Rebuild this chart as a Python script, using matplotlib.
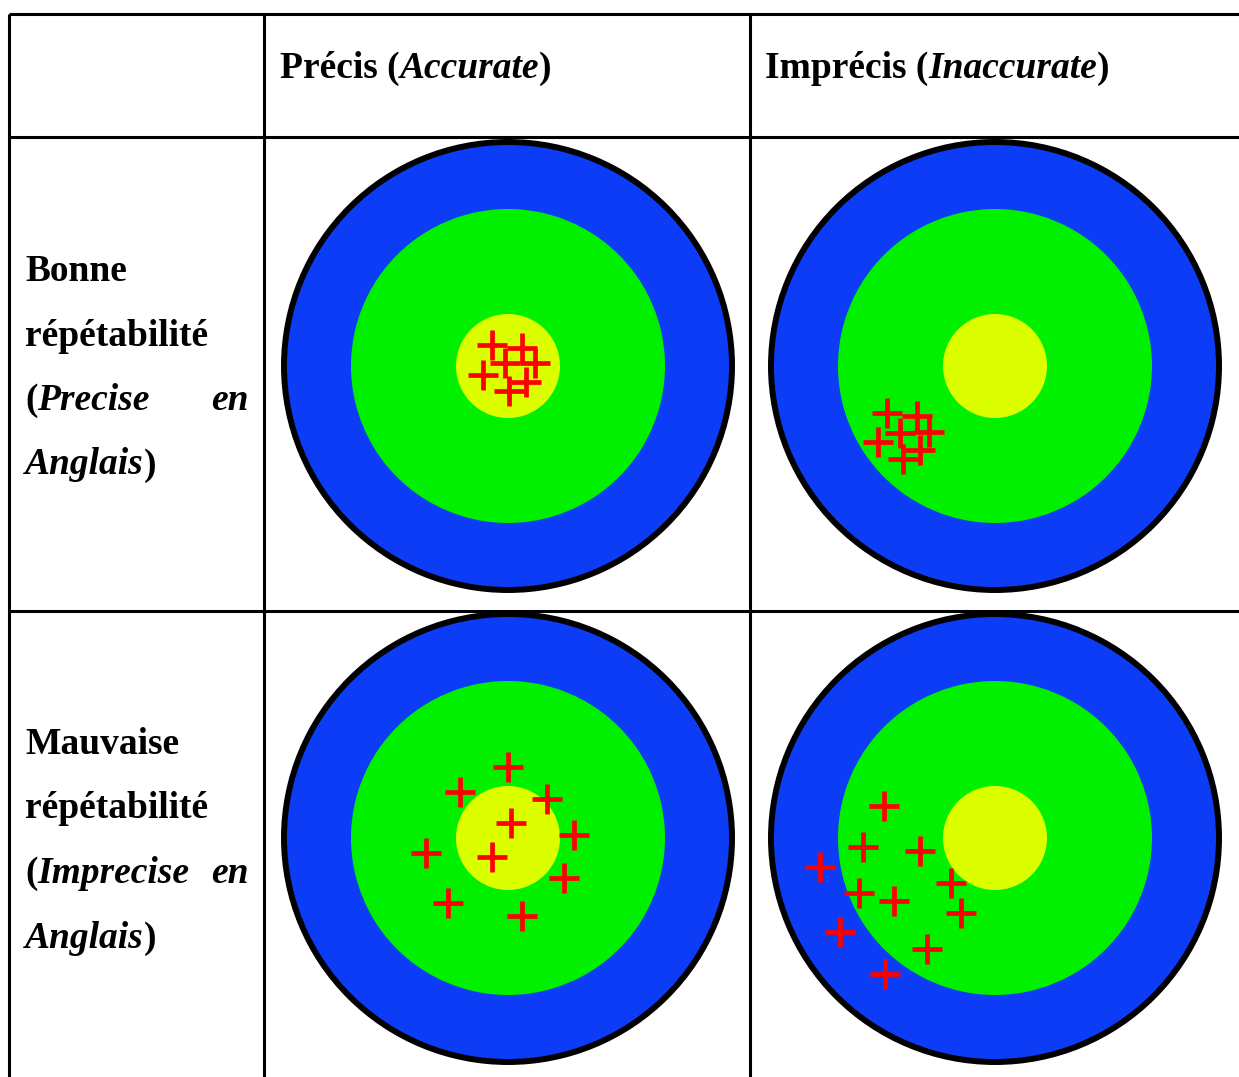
import matplotlib.pyplot as plt
from matplotlib.patches import Circle

W, H = 1239, 1077

BLUE = "#0c3cf6"
GREEN = "#00f000"
YELLOW = "#dcff00"
RED = "#ff0000"

# table grid (pixel coordinates)
ROW_LINES = [14, 137, 611]
COL_LINES = [9, 264, 750]

# targets: centre x, centre y
TARGET_X = [508, 995, 508, 995]
TARGET_Y = [366, 366, 838, 838]
R_OUTER = 224
R_GREEN = 157
R_YELLOW = 52

# shots on each target
SHOTS_1_X = [492, 522, 505, 483, 535, 526, 509]
SHOTS_1_Y = [345, 348, 363, 375, 363, 382, 391]
SHOTS_2_X = [887, 917, 900, 878, 929, 920, 903]
SHOTS_2_Y = [413, 416, 433, 442, 432, 450, 459]
SHOTS_3_X = [508, 460, 547, 511, 574, 426, 492, 564, 448, 522]
SHOTS_3_Y = [767, 792, 799, 823, 835, 853, 857, 878, 903, 916]
SHOTS_4_X = [884, 863, 920, 820, 951, 859, 894, 961, 840, 927, 885]
SHOTS_4_Y = [806, 847, 851, 867, 883, 893, 901, 913, 932, 949, 974]

HEADER_1 = [("Précis (", "normal"), ("Accurate", "italic"), (")", "normal")]
HEADER_2 = [("Imprécis (", "normal"), ("Inaccurate", "italic"), (")", "normal")]
ROW_1 = [
    [("Bonne", "normal")],
    [("répétabilité", "normal")],
    [("(", "normal"), ("Precise", "italic")],
    [("Anglais", "italic"), (")", "normal")],
]
ROW_2 = [
    [("Mauvaise", "normal")],
    [("répétabilité", "normal")],
    [("(", "normal"), ("Imprecise", "italic")],
    [("Anglais", "italic"), (")", "normal")],
]

FONT = "Liberation Serif"
FS = 27


def draw_pieces(ax, renderer, x, y, pieces):
    for txt, style in pieces:
        t = ax.text(x, y, txt, fontfamily=FONT, fontsize=FS, fontweight="bold",
                    fontstyle=style, va="baseline", ha="left")
        bb = t.get_window_extent(renderer=renderer)
        x += bb.width


def draw_target(ax, cx, cy, sx, sy):
    ax.add_patch(Circle((cx, cy), R_OUTER, fc=BLUE, ec="black", lw=4.3, zorder=2))
    ax.add_patch(Circle((cx, cy), R_GREEN, fc=GREEN, ec="none", zorder=3))
    ax.add_patch(Circle((cx, cy), R_YELLOW, fc=YELLOW, ec="none", zorder=4))
    ax.plot(sx, sy, ls="none", marker="+", ms=22, mew=3.4, color=RED, zorder=5)


fig = plt.figure(figsize=(W / 100, H / 100), dpi=100)
ax = fig.add_axes([0, 0, 1, 1])
ax.set_xlim(0, W)
ax.set_ylim(H, 0)
ax.axis("off")

for y in ROW_LINES:
    ax.plot([COL_LINES[0], W], [y, y], color="black", lw=2.2, solid_capstyle="butt")
for x in COL_LINES:
    ax.plot([x, x], [ROW_LINES[0], H], color="black", lw=2.2, solid_capstyle="butt")

shots = [(SHOTS_1_X, SHOTS_1_Y), (SHOTS_2_X, SHOTS_2_Y),
         (SHOTS_3_X, SHOTS_3_Y), (SHOTS_4_X, SHOTS_4_Y)]
for cx, cy, (sx, sy) in zip(TARGET_X, TARGET_Y, shots):
    draw_target(ax, cx, cy, sx, sy)

fig.canvas.draw()
renderer = fig.canvas.get_renderer()

draw_pieces(ax, renderer, 280, 78, HEADER_1)
draw_pieces(ax, renderer, 765, 78, HEADER_2)

for base, lines in [(281, ROW_1), (754, ROW_2)]:
    for i, pieces in enumerate(lines):
        draw_pieces(ax, renderer, 25, base + i * 64.5, pieces)
    ax.text(249, base + 2 * 64.5, "en", fontfamily=FONT, fontsize=FS,
            fontweight="bold", fontstyle="italic", va="baseline", ha="right")

fig.savefig("out.png", dpi=100)
